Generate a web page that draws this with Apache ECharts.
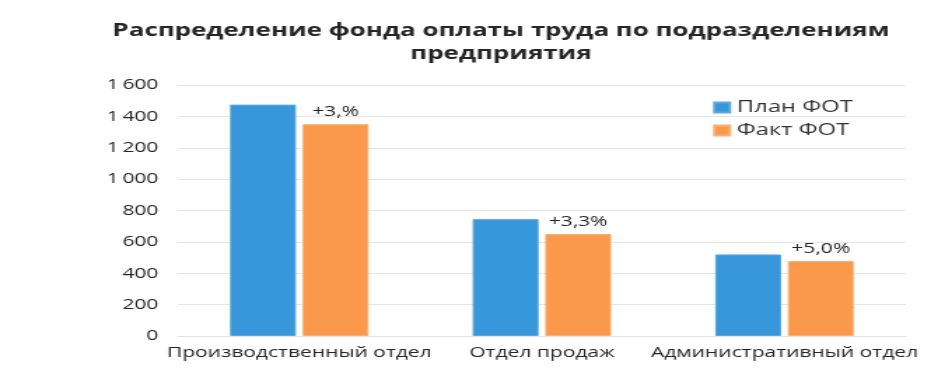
<!DOCTYPE html>
<html><head><meta charset="utf-8">
<script src="https://cdn.jsdelivr.net/npm/echarts@6/dist/echarts.min.js"></script>
<style>
html,body{margin:0;padding:0;background:#fff;overflow:hidden}
#wrap{width:948px;height:380px;overflow:hidden}
#c{width:677px;height:380px;transform:scaleX(1.4);transform-origin:0 0}
</style></head><body>
<div id="wrap"><div id="c"></div></div>
<script>
const titleText = 'Распределение фонда оплаты труда по подразделениям\nпредприятия';
const categories = ['Производственный отдел', 'Отдел продаж', 'Административный отдел'];
const planName = 'План ФОТ';
const factName = 'Факт ФОТ';
const planValues = [1475, 745, 520];
const factValues = [1350, 650, 478];
const factLabels = ['+3,%', '+3,3%', '+5,0%'];
const yTicks = { min: 0, max: 1600, interval: 200 };

const S = 1.4;
const font = 'Open Sans';
const chart = echarts.init(document.getElementById('c'), null, { renderer: 'canvas' });
chart.setOption({
  backgroundColor: '#fff',
  animation: false,
  textStyle: { fontFamily: font },
  title: {
    text: titleText,
    left: 494 / S, top: 14, textAlign: 'center',
    textStyle: { fontFamily: font, fontSize: 18.5, fontWeight: 'bold', color: '#262626', lineHeight: 23, align: 'center' }
  },
  legend: {
    orient: 'vertical',
    left: 706 / S, top: 94,
    itemWidth: 11, itemHeight: 10, itemGap: 6,
    icon: 'rect',
    textStyle: { fontFamily: font, fontSize: 17, color: '#333' },
    data: [planName, factName]
  },
  grid: { left: 178 / S, right: (948 - 906) / S, top: 85, bottom: 380 - 336, containLabel: false },
  xAxis: {
    type: 'category',
    data: categories,
    axisLine: { show: true, lineStyle: { color: '#e3e3e3' } },
    axisTick: { show: false },
    axisLabel: { fontFamily: font, fontSize: 15, color: '#262626', margin: 9, interval: 0 }
  },
  yAxis: {
    type: 'value',
    min: yTicks.min, max: yTicks.max, interval: yTicks.interval,
    axisLine: { show: false },
    axisTick: { show: false },
    splitLine: { lineStyle: { color: '#e6e6e6' } },
    axisLabel: {
      fontFamily: font, fontSize: 15, color: '#262626', margin: 14,
      formatter: v => String(v).replace(/\B(?=(\d{3})+(?!\d))/g, '\u2009')
    }
  },
  series: [
    {
      name: planName, type: 'bar', data: planValues,
      barWidth: 66 / S, barGap: '10%',
      itemStyle: { color: '#3797da', borderColor: '#5aa8e0', borderWidth: 1 }
    },
    {
      name: factName, type: 'bar', data: factValues,
      barWidth: 66 / S,
      itemStyle: { color: '#fa994b', borderColor: '#fbb070', borderWidth: 1 },
      label: {
        show: true, position: 'top', distance: 5,
        fontFamily: font, fontSize: 15, color: '#262626',
        formatter: p => factLabels[p.dataIndex]
      }
    }
  ]
});
</script>
</body></html>
